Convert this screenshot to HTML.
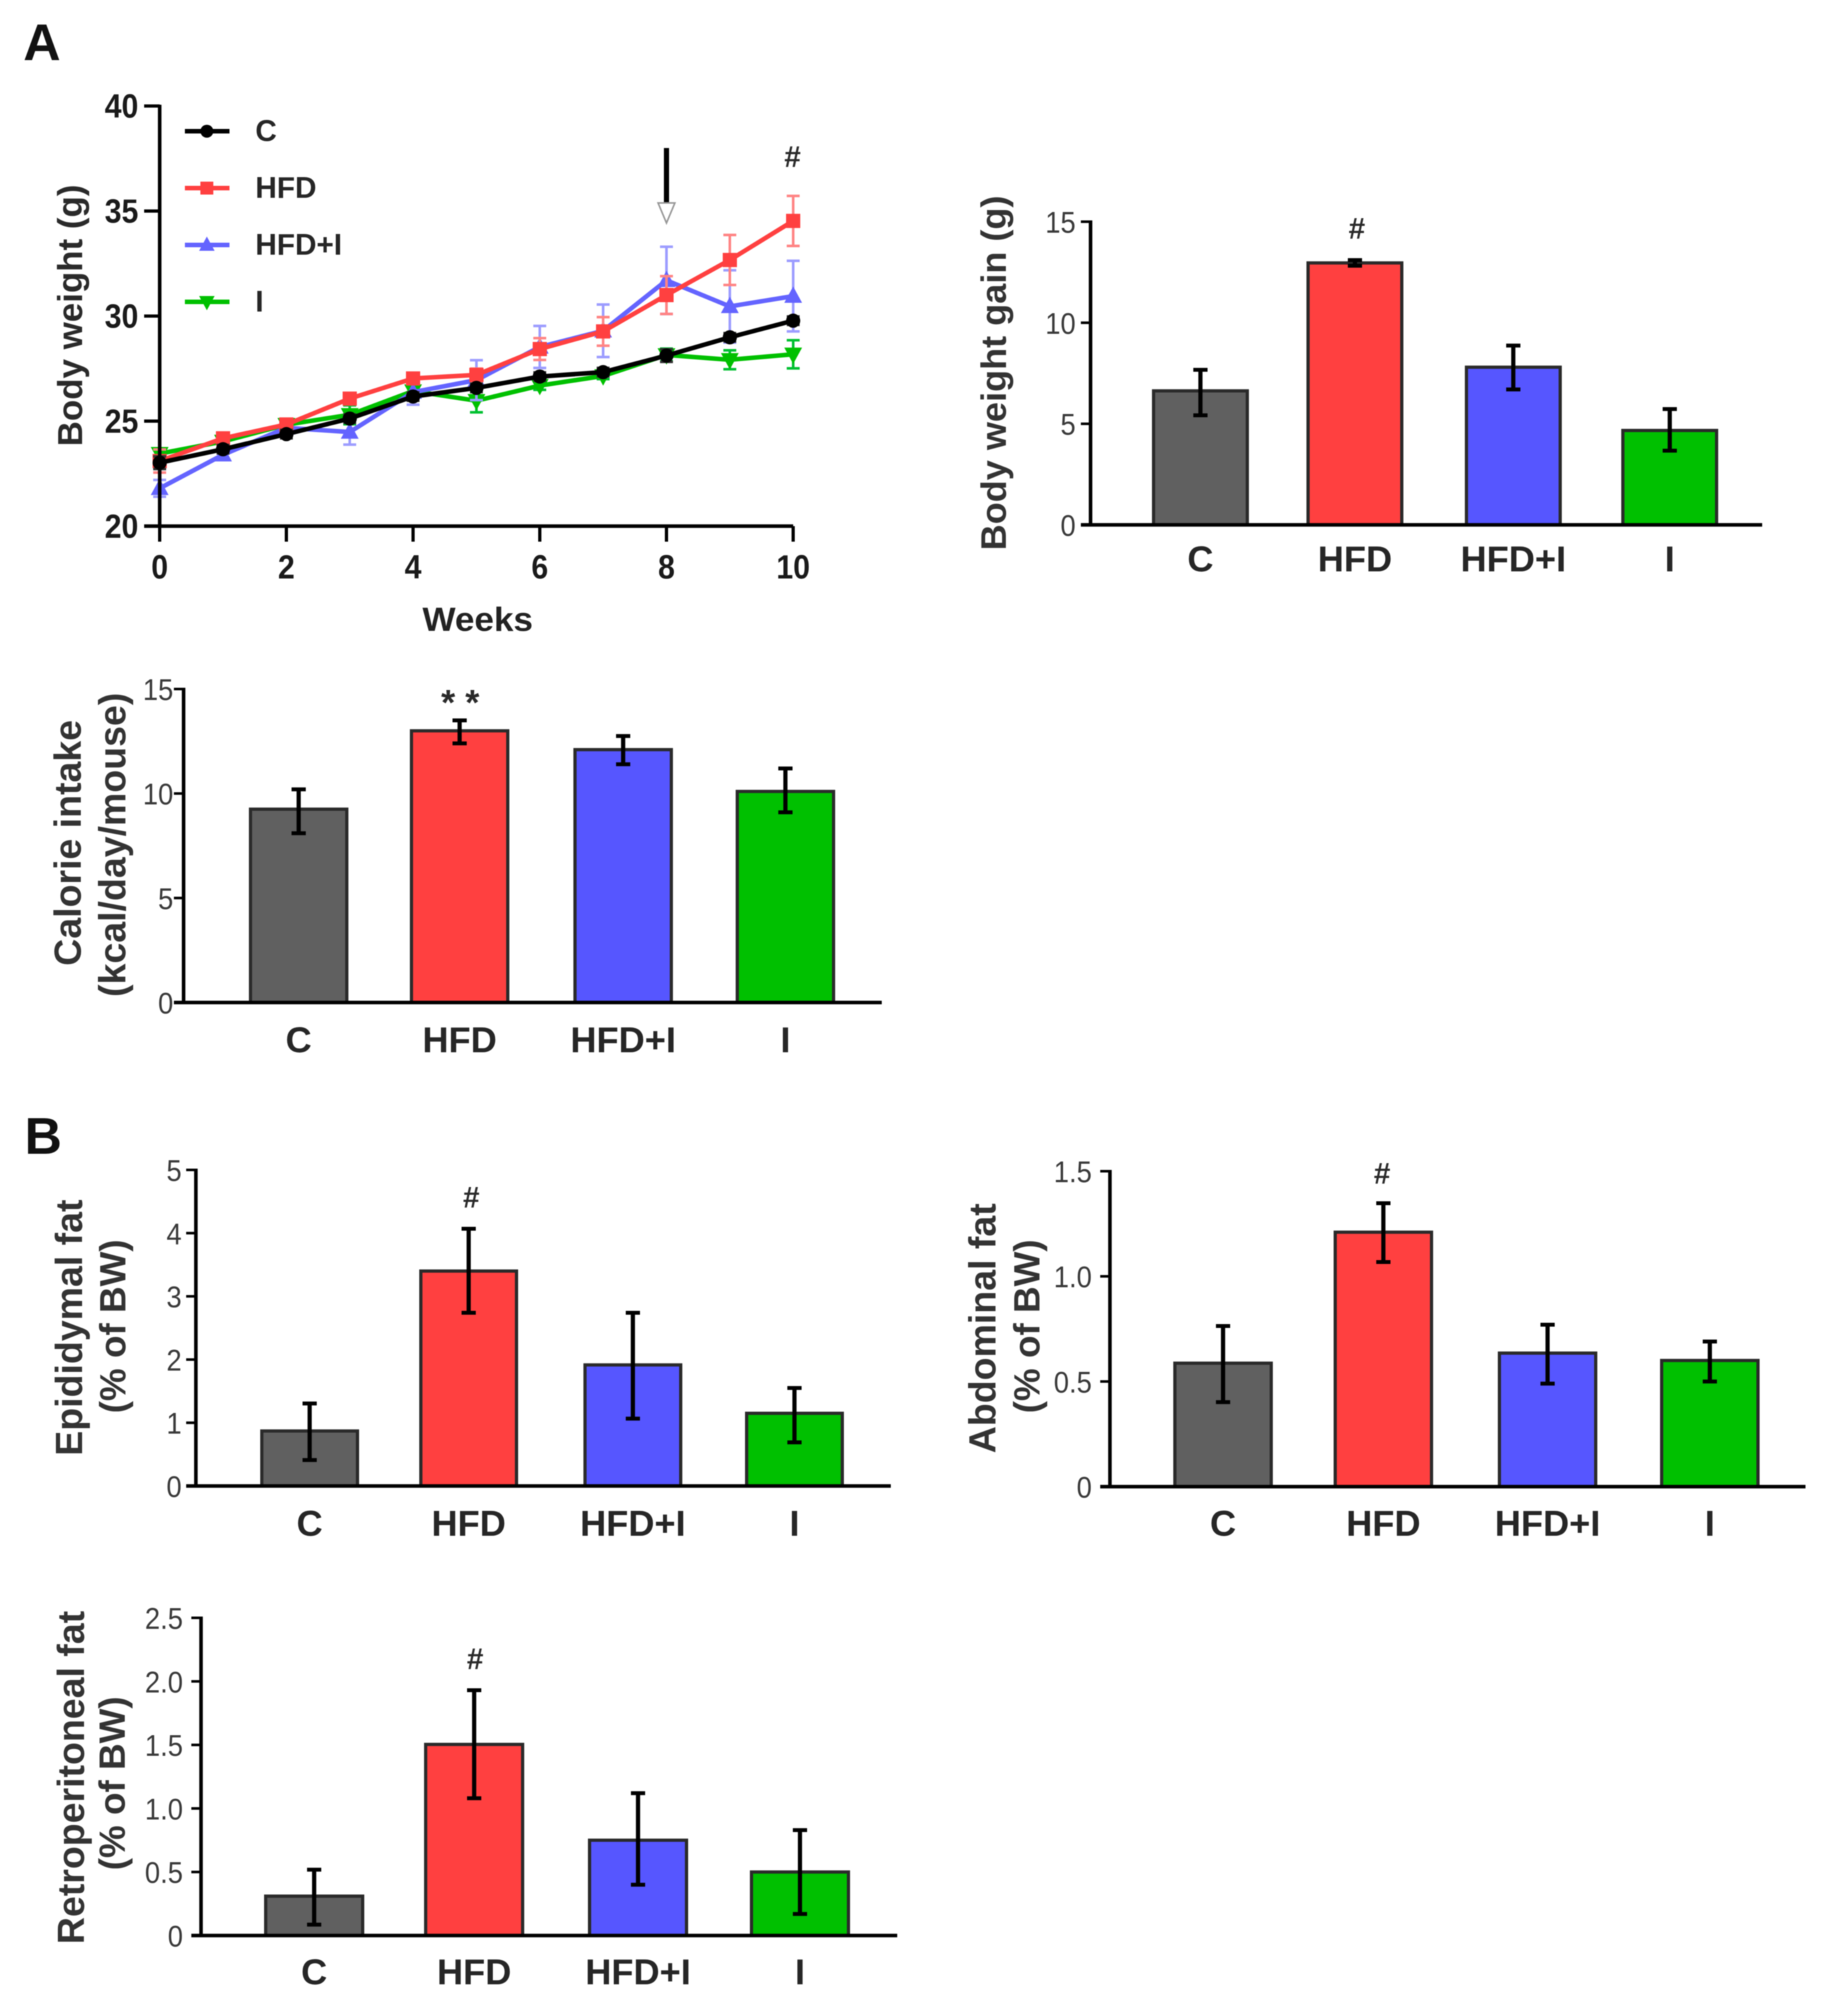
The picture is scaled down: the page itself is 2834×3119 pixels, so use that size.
<!DOCTYPE html>
<html lang="en">
<head>
<meta charset="utf-8">
<title>Body weight, calorie intake and fat mass</title>
<style>
html,body{margin:0;padding:0;background:#fff;}
svg{display:block;filter:blur(0.9px);}
text{font-family:"Liberation Sans",Arial,sans-serif;}
</style>
</head>
<body>
<svg id="figure" xmlns="http://www.w3.org/2000/svg" width="2834" height="3119" viewBox="0 0 2834 3119">
  <rect width="2834" height="3119" fill="#fff"/>
  <text x="36" y="93" font-size="80" font-weight="700" fill="#111">A</text>
  <text x="38" y="1785" font-size="80" font-weight="700" fill="#111">B</text>

  <text x="739" y="976" font-size="52" font-weight="700" fill="#222" text-anchor="middle" textLength="171" lengthAdjust="spacingAndGlyphs">Weeks</text>
  <text transform="translate(127 488) rotate(-90)" font-size="54" font-weight="700" fill="#2a2a2a" text-anchor="middle">Body weight (g)</text>

  <text transform="translate(1556 577) rotate(-90)" font-size="55" font-weight="700" fill="#333" text-anchor="middle" textLength="549" lengthAdjust="spacingAndGlyphs">Body weight gain (g)</text>

  <text transform="translate(125 1304) rotate(-90)" font-size="58" font-weight="700" fill="#333" text-anchor="middle">Calorie intake</text>
  <text transform="translate(194 1307) rotate(-90)" font-size="58" font-weight="700" fill="#333" text-anchor="middle">(kcal/day/mouse)</text>

  <text transform="translate(127 2054) rotate(-90)" font-size="58" font-weight="700" fill="#333" text-anchor="middle">Epididymal fat</text>
  <text transform="translate(194 2052) rotate(-90)" font-size="57" font-weight="700" fill="#333" text-anchor="middle">(% of BW)</text>

  <text transform="translate(1540 2055) rotate(-90)" font-size="58" font-weight="700" fill="#333" text-anchor="middle">Abdominal fat</text>
  <text transform="translate(1608 2052) rotate(-90)" font-size="57" font-weight="700" fill="#333" text-anchor="middle">(% of BW)</text>

  <text transform="translate(130 2750) rotate(-90)" font-size="58" font-weight="700" fill="#333" text-anchor="middle">Retroperitoneal fat</text>
  <text transform="translate(193 2759) rotate(-90)" font-size="57" font-weight="700" fill="#333" text-anchor="middle">(% of BW)</text>
</svg>

<script>
// ---------- Shared categories ----------
const groupLabels = ['C', 'HFD', 'HFD+I', 'I'];

// ---------- Body weight line chart ----------
const weeks = [0, 1, 2, 3, 4, 5, 6, 7, 8, 9, 10];
const weekTickLabels = [0, 2, 4, 6, 8, 10];
const weightTickLabels = [20, 25, 30, 35, 40];
const weightC = [23.02, 23.66, 24.38, 25.12, 26.17, 26.58, 27.12, 27.33, 28.12, 28.99, 29.78];
const weightCErr = [0.3, 0.2, 0.2, 0.2, 0.2, 0.2, 0.2, 0.2, 0.3, 0.2, 0.2];
const weightHFD = [23.1, 24.18, 24.84, 26.07, 27.03, 27.2, 28.43, 29.27, 31.0, 32.67, 34.53];
const weightHFDErr = [0.55, 0.2, 0.2, 0.2, 0.2, 0.3, 0.52, 0.68, 0.9, 1.19, 1.19];
const weightHFDI = [21.8, 23.4, 24.68, 24.48, 26.38, 26.95, 28.53, 29.3, 31.7, 30.46, 30.95];
const weightHFDIErr = [0.4, 0.25, 0.3, 0.6, 0.6, 0.95, 1.0, 1.25, 1.6, 1.72, 1.68];
const weightI = [23.45, 24.03, 24.83, 25.3, 26.43, 25.97, 26.69, 27.15, 28.15, 27.92, 28.18];
const weightIErr = [0.2, 0.2, 0.2, 0.45, 0.4, 0.55, 0.2, 0.15, 0.3, 0.45, 0.67];

// ---------- Body weight gain ----------
const gainTicks = ['0', '5', '10', '15'];
const gainValues = [6.63, 12.96, 7.8, 4.67];
const gainErrLow = [5.42, 12.82, 6.7, 3.67];
const gainErrHigh = [7.67, 13.1, 8.87, 5.73];

// ---------- Calorie intake ----------
const calorieTicks = ['0', '5', '10', '15'];
const calorieValues = [9.25, 13, 12.1, 10.1];
const calorieErrLow = [8.1, 12.4, 11.4, 9.1];
const calorieErrHigh = [10.2, 13.5, 12.75, 11.2];

// ---------- Epididymal fat ----------
const epididymalTicks = ['0', '1', '2', '3', '4', '5'];
const epididymalValues = [0.87, 3.4, 1.915, 1.15];
const epididymalErrLow = [0.41, 2.74, 1.066, 0.69];
const epididymalErrHigh = [1.305, 4.07, 2.74, 1.55];

// ---------- Abdominal fat ----------
const abdominalTicks = ['0', '0.5', '1.0', '1.5'];
const abdominalValues = [0.587, 1.21, 0.635, 0.6];
const abdominalErrLow = [0.402, 1.068, 0.49, 0.5];
const abdominalErrHigh = [0.764, 1.348, 0.77, 0.69];

// ---------- Retroperitoneal fat ----------
const retroTicks = ['0', '0.5', '1.0', '1.5', '2.0', '2.5'];
const retroValues = [0.31, 1.504, 0.75, 0.5];
const retroErrLow = [0.086, 1.08, 0.4, 0.17];
const retroErrHigh = [0.518, 1.93, 1.12, 0.83];

const NS = 'http://www.w3.org/2000/svg';
const root = document.getElementById('figure');

function mk(tag, attrs, parent) {
  const el = document.createElementNS(NS, tag);
  for (const k in attrs) el.setAttribute(k, attrs[k]);
  (parent || root).appendChild(el);
  return el;
}
function group(parent) {
  return mk('g', {}, parent);
}
function line(parent, x1, y1, x2, y2, stroke, width) {
  return mk('line', { x1: x1, y1: y1, x2: x2, y2: y2, stroke: stroke, 'stroke-width': width }, parent);
}
function label(parent, x, y, str, size, weight, fill, anchor, len) {
  const attrs = { x: x, y: y, 'font-size': size, 'font-weight': weight, fill: fill, 'text-anchor': anchor };
  if (len) {
    attrs.textLength = len;
    attrs.lengthAdjust = 'spacingAndGlyphs';
  }
  const el = mk('text', attrs, parent);
  el.textContent = str;
  return el;
}
// natural Liberation Sans width of a numeric label, in em
function numericEm(str) {
  let em = 0;
  for (const ch of str) em += ch === '.' ? 0.278 : 0.556;
  return em;
}

const groupColors = ['#606060', '#ff4040', '#5656ff', '#00c000'];

function drawBarChart(name, values, errLow, errHigh, tickLabels, tickStep, geo) {
  const g = group();
  
  
  const yOf = v => geo.y0 - (v / geo.max) * (geo.y0 - geo.yTop);
  const xOf = i => geo.c0 + i * geo.step + (i === 1 ? geo.nudge : 0);

  values.forEach((v, i) => {
    const top = yOf(v);
    const bar = mk('rect', { x: xOf(i) - geo.w / 2, y: top, width: geo.w, height: geo.y0 - top, fill: groupColors[i], stroke: '#2a2a2a', 'stroke-width': 5 }, g);
    
    
  });

  const yAxis = line(g, geo.axisX, geo.yTop - 2, geo.axisX, geo.y0, '#000', 5.5);
  
  
  const xAxis = line(g, geo.axisX - 15, geo.y0, geo.xEnd, geo.y0, '#000', 5.5);
  
  

  tickLabels.forEach((t, i) => {
    const y = yOf(i * tickStep);
    const tick = line(g, geo.axisX - 15, y, geo.axisX, y, '#000', 4);
    
    
    const lab = label(g, geo.labelX, y + 17, t, 46, 400, '#3a3a3a', 'end', numericEm(t) * 46 * 0.92);
    
    
  });

  values.forEach((v, i) => {
    const x = xOf(i);
    const err = group(g);
    
    
    line(err, x, yOf(errLow[i]), x, yOf(errHigh[i]), '#000', 6.5);
    line(err, x - 11, yOf(errLow[i]), x + 11, yOf(errLow[i]), '#000', 6);
    line(err, x - 11, yOf(errHigh[i]), x + 11, yOf(errHigh[i]), '#000', 6);
  });

  groupLabels.forEach((t, i) => {
    const lab = label(g, xOf(i), geo.catY, t, 56, 700, '#262626', 'middle');
    
    
  });

  const sig = label(g, geo.sigX, geo.sigY, geo.sig, geo.sigSize, 700, '#2a2a2a', 'middle');
  
  
}

drawBarChart('weight-gain', gainValues, gainErrLow, gainErrHigh, gainTicks, 5,
  { y0: 812, yTop: 343, max: 15, axisX: 1687, xEnd: 2726, c0: 1857, step: 242, nudge: -3, w: 145, labelX: 1664, catY: 884, sig: '#', sigX: 2099, sigY: 369, sigSize: 46 });
drawBarChart('calorie-intake', calorieValues, calorieErrLow, calorieErrHigh, calorieTicks, 5,
  { y0: 1551, yTop: 1066, max: 15, axisX: 284, xEnd: 1364, c0: 462, step: 251, nudge: -2, w: 149, labelX: 268, catY: 1628, sig: '* *', sigX: 712, sigY: 1106, sigSize: 56 });
drawBarChart('epididymal-fat', epididymalValues, epididymalErrLow, epididymalErrHigh, epididymalTicks, 1,
  { y0: 2299, yTop: 1810, max: 5, axisX: 303, xEnd: 1378, c0: 479, step: 250, nudge: -4, w: 148, labelX: 281, catY: 2376, sig: '#', sigX: 729, sigY: 1868, sigSize: 46 });
drawBarChart('abdominal-fat', abdominalValues, abdominalErrLow, abdominalErrHigh, abdominalTicks, 0.5,
  { y0: 2300, yTop: 1812, max: 1.5, axisX: 1717, xEnd: 2793, c0: 1892, step: 251, nudge: -3, w: 149, labelX: 1689, catY: 2376, sig: '#', sigX: 2138, sigY: 1831, sigSize: 46 });
drawBarChart('retroperitoneal-fat', retroValues, retroErrLow, retroErrHigh, retroTicks, 0.5,
  { y0: 2994.5, yTop: 2503, max: 2.5, axisX: 311, xEnd: 1388, c0: 486, step: 250.5, nudge: -3, w: 150, labelX: 283, catY: 3070, sig: '#', sigX: 735, sigY: 2582, sigSize: 46 });

// ---------- Line chart drawing ----------
const xWeek = w => 247 + 98 * w;
const yWeight = v => 814 - (v - 20) * 32.5;

function drawMarker(parent, shape, cx, cy, color, size) {
  let m;
  if (shape === 'circle') {
    m = mk('circle', { cx: cx, cy: cy, r: size / 2, fill: color }, parent);
  } else if (shape === 'square') {
    m = mk('rect', { x: cx - size / 2, y: cy - size / 2, width: size, height: size, fill: color }, parent);
  } else if (shape === 'up') {
    m = mk('polygon', { points: [cx, cy - size * 0.65, cx + size * 0.6, cy + size * 0.45, cx - size * 0.6, cy + size * 0.45].join(' '), fill: color }, parent);
  } else {
    m = mk('polygon', { points: [cx, cy + size * 0.65, cx + size * 0.6, cy - size * 0.45, cx - size * 0.6, cy - size * 0.45].join(' '), fill: color }, parent);
  }
  return m;
}

function drawSeries(name, values, errs, color, errColor, shape, size) {
  const g = group(weightChart);
  
  
  values.forEach((v, i) => {
    const x = xWeek(weeks[i]);
    const err = group(g);
    
    
    line(err, x, yWeight(v - errs[i]), x, yWeight(v + errs[i]), errColor, 4);
    line(err, x - 10, yWeight(v - errs[i]), x + 10, yWeight(v - errs[i]), errColor, 4);
    line(err, x - 10, yWeight(v + errs[i]), x + 10, yWeight(v + errs[i]), errColor, 4);
  });
  const path = mk('polyline', { points: values.map((v, i) => xWeek(weeks[i]) + ',' + yWeight(v)).join(' '), fill: 'none', stroke: color, 'stroke-width': 7, 'stroke-linejoin': 'round' }, g);
  
  
  values.forEach((v, i) => {
    const m = drawMarker(g, shape, xWeek(weeks[i]), yWeight(v), color, size);
    
    
  });
}

const weightChart = group();



drawSeries('series-i', weightI, weightIErr, '#00c000', '#00c030', 'down', 23);
drawSeries('series-hfd-i', weightHFDI, weightHFDIErr, '#6464ff', '#9c9cff', 'up', 23);
drawSeries('series-hfd', weightHFD, weightHFDErr, '#ff4040', '#ff8484', 'square', 22);
drawSeries('series-c', weightC, weightCErr, '#000', '#333', 'circle', 22);

const weightYAxis = line(weightChart, 247, 162, 247, 814, '#000', 5.5);


const weightXAxis = line(weightChart, 223, 814, 1227, 814, '#000', 5.5);



weightTickLabels.forEach(t => {
  const y = yWeight(t);
  const tick = line(weightChart, 223, y, 247, y, '#000', 5);
  
  
  const lab = label(weightChart, 214, y + 18, String(t), 52, 700, '#1a1a1a', 'end', String(t).length * 26);
  
  
});
weekTickLabels.forEach(t => {
  const x = xWeek(t);
  const tick = line(weightChart, x, 814, x, 838, '#000', 5);
  
  
  const lab = label(weightChart, x, 895, String(t), 52, 700, '#1a1a1a', 'middle', String(t).length * 26);
  
  
});

// Legend
const legendNames = ['C', 'HFD', 'HFD+I', 'I'];
const legendColors = ['#000', '#ff4040', '#6464ff', '#00c000'];
const legendShapes = ['circle', 'square', 'up', 'down'];
legendNames.forEach((t, i) => {
  const y = 203 + i * 88;
  const entry = group(weightChart);
  
  
  line(entry, 286, y, 355, y, legendColors[i], 7);
  drawMarker(entry, legendShapes[i], 320, y, legendColors[i], 20);
  label(entry, 395, y + 15, t, 46, 700, '#262626', 'start');
});

// Treatment arrow and significance mark
const arrow = group(weightChart);


line(arrow, 1031, 229, 1031, 317, '#000', 8);
mk('polygon', { points: '1018,314 1044,314 1031,345', fill: '#fff', stroke: '#999', 'stroke-width': 2.5 }, arrow);
const weightSig = label(weightChart, 1226, 258, '#', 46, 700, '#2a2a2a', 'middle');


</script>
</body>
</html>
